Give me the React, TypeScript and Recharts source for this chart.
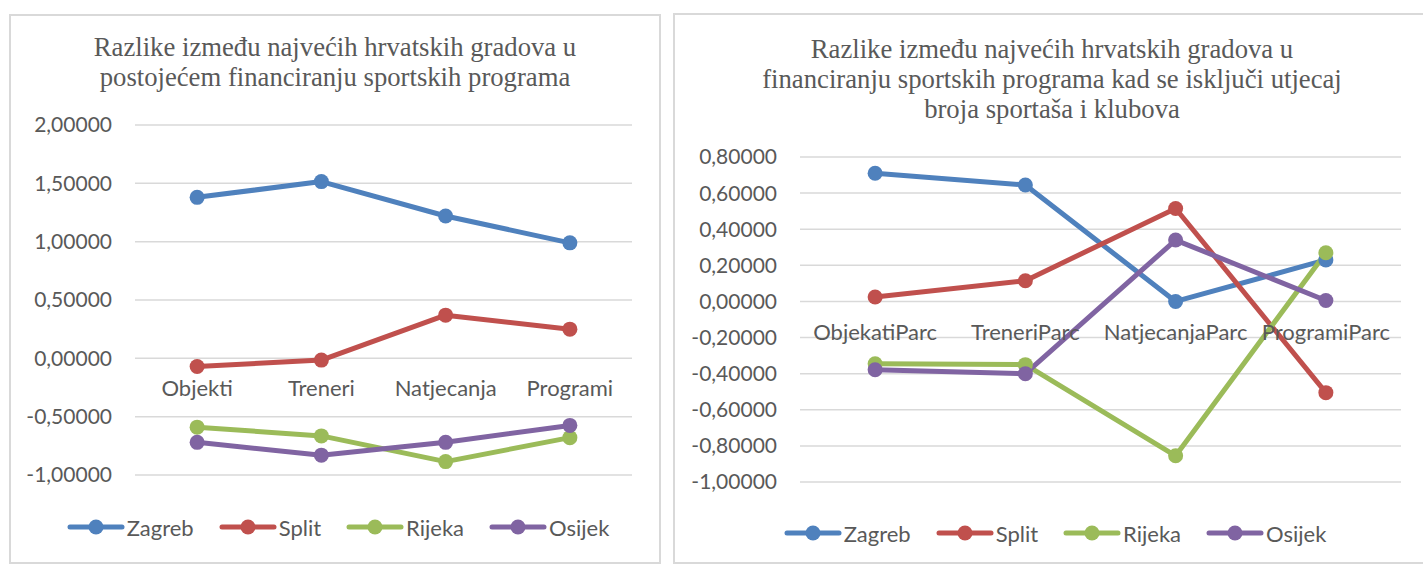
import React from 'react';
import { LineChart, Line, XAxis, YAxis, CartesianGrid, Legend, LabelList } from 'recharts';

// left chart: postojeće financiranje
const categoriesLeft = ['Objekti', 'Treneri', 'Natjecanja', 'Programi'];
const zagrebLeft = [1.38, 1.515, 1.22, 0.99];
const splitLeft = [-0.07, -0.015, 0.37, 0.25];
const rijekaLeft = [-0.59, -0.665, -0.885, -0.68];
const osijekLeft = [-0.72, -0.83, -0.72, -0.575];
const ticksLeft = [2, 1.5, 1, 0.5, 0, -0.5, -1];

// right chart: bez utjecaja broja sportaša i klubova
const categoriesRight = ['ObjekatiParc', 'TreneriParc', 'NatjecanjaParc', 'ProgramiParc'];
const zagrebRight = [0.71, 0.645, 0.0, 0.23];
const splitRight = [0.025, 0.115, 0.515, -0.505];
const rijekaRight = [-0.345, -0.35, -0.855, 0.27];
const osijekRight = [-0.378, -0.4, 0.34, 0.005];
const ticksRight = [0.8, 0.6, 0.4, 0.2, 0, -0.2, -0.4, -0.6, -0.8, -1];

const cities = ['Zagreb', 'Split', 'Rijeka', 'Osijek'];
const colors: Record<string, string> = {
  Zagreb: '#4f81bd',
  Split: '#c0504d',
  Rijeka: '#9bbb59',
  Osijek: '#8064a2',
};

const TEXT = '#595959';
const GRID = '#d9d9d9';
const SANS = 'Lato, "Open Sans", sans-serif';
const SERIF = '"Liberation Serif", "Times New Roman", serif';

function buildRows(cats: string[], z: number[], s: number[], r: number[], o: number[]) {
  return cats.map((name, i) => ({
    name,
    base: 0,
    Zagreb: z[i],
    Split: s[i],
    Rijeka: r[i],
    Osijek: o[i],
  }));
}

const dataLeft = buildRows(categoriesLeft, zagrebLeft, splitLeft, rijekaLeft, osijekLeft);
const dataRight = buildRows(categoriesRight, zagrebRight, splitRight, rijekaRight, osijekRight);

const fmt = (v: number) => v.toFixed(5).replace('.', ',');

const LegendContent = ({ payload, shift }: any) => {
  const items = (payload || [])
    .filter((p: any) => cities.includes(p.value))
    .sort((a: any, b: any) => cities.indexOf(a.value) - cities.indexOf(b.value));
  return (
    <div
      style={{
        display: 'flex',
        justifyContent: 'center',
        alignItems: 'center',
        gap: 25,
        height: 30,
        paddingLeft: shift,
        fontFamily: SANS,
        fontSize: 22,
        color: TEXT,
      }}
    >
      {items.map((p: any) => (
        <div key={p.value} style={{ display: 'flex', alignItems: 'center' }}>
          <svg width={58} height={20}>
            <line x1={3} y1={10} x2={55} y2={10} stroke={p.color} strokeWidth={5} strokeLinecap="round" />
            <circle cx={29} cy={10} r={7.5} fill={p.color} />
          </svg>
          <span style={{ marginLeft: 2 }}>{p.value}</span>
        </div>
      ))}
    </div>
  );
};

interface PanelProps {
  left: number;
  top: number;
  width: number;
  height: number;
  title: string[];
  titleTop: number;
  titleWidth: number;
  data: any[];
  ticks: number[];
  margin: { top: number; right: number; bottom: number; left: number };
  yWidth: number;
  labelOffset: number;
  legendTop: number;
  legendShift: number;
}

function Panel(p: PanelProps) {
  const domain = [p.ticks[p.ticks.length - 1], p.ticks[0]];
  return (
    <>
      <div
        style={{
          position: 'absolute',
          left: p.left,
          top: p.top,
          width: p.width,
          height: p.height,
          border: `2px solid ${GRID}`,
          boxSizing: 'border-box',
          background: '#fff',
        }}
      />
      <div
        style={{
          position: 'absolute',
          left: p.left,
          top: p.titleTop,
          width: p.titleWidth,
          textAlign: 'center',
          fontFamily: SERIF,
          fontSize: 26.7,
          lineHeight: '30px',
          color: TEXT,
        }}
      >
        {p.title.map((t) => (
          <div key={t} style={{ whiteSpace: 'nowrap' }}>{t}</div>
        ))}
      </div>
      <div style={{ position: 'absolute', left: p.left, top: p.top }}>
        <LineChart width={p.width} height={p.height} data={p.data} margin={p.margin}>
          <CartesianGrid vertical={false} stroke={GRID} strokeWidth={1.5} />
          <XAxis dataKey="name" scale="band" hide />
          <YAxis
            domain={domain}
            ticks={p.ticks}
            interval={0}
            width={p.yWidth}
            axisLine={false}
            tickLine={false}
            tickSize={0}
            tickMargin={23}
            tickFormatter={fmt}
            tick={{ fill: TEXT, fontSize: 21, fontFamily: SANS }}
          />
          <Line
            dataKey="base"
            stroke="none"
            dot={false}
            activeDot={false}
            legendType="none"
            isAnimationActive={false}
          >
            <LabelList
              dataKey="name"
              position="bottom"
              offset={p.labelOffset}
              fill={TEXT}
              fontSize={22}
              fontFamily={SANS}
            />
          </Line>
          {cities.map((c) => (
            <Line
              key={c}
              dataKey={c}
              name={c}
              stroke={colors[c]}
              strokeWidth={5}
              strokeLinejoin="round"
              strokeLinecap="round"
              dot={{ r: 7.5, fill: colors[c], stroke: 'none' }}
              activeDot={false}
              isAnimationActive={false}
            />
          ))}
          <Legend
            layout="horizontal"
            verticalAlign="middle"
            align="center"
            wrapperStyle={{ top: p.legendTop, left: 0, width: p.width }}
            content={(props: any) => <LegendContent {...props} shift={p.legendShift} />}
          />
        </LineChart>
      </div>
    </>
  );
}

export default function App() {
  return (
    <div
      style={{
        position: 'absolute',
        left: 0,
        top: 0,
        width: 1423,
        height: 565,
        overflow: 'hidden',
        background: '#fff',
      }}
    >
      <Panel
        left={9}
        top={14}
        width={652}
        height={550}
        title={['Razlike između najvećih hrvatskih gradova u', 'postojećem financiranju sportskih programa']}
        titleTop={32}
        titleWidth={652}
        data={dataLeft}
        ticks={ticksLeft}
        margin={{ top: 111, right: 29, bottom: 89, left: 0 }}
        yWidth={126}
        labelOffset={22}
        legendTop={498}
        legendShift={6}
      />
      <Panel
        left={673}
        top={13}
        width={764}
        height={551}
        title={[
          'Razlike između najvećih hrvatskih gradova u',
          'financiranju sportskih programa kad se isključi utjecaj',
          'broja sportaša i klubova',
        ]}
        titleTop={34}
        titleWidth={758}
        data={dataRight}
        ticks={ticksRight}
        margin={{ top: 144, right: 36, bottom: 82, left: 0 }}
        yWidth={127}
        labelOffset={23}
        legendTop={505}
        legendShift={0}
      />
    </div>
  );
}
